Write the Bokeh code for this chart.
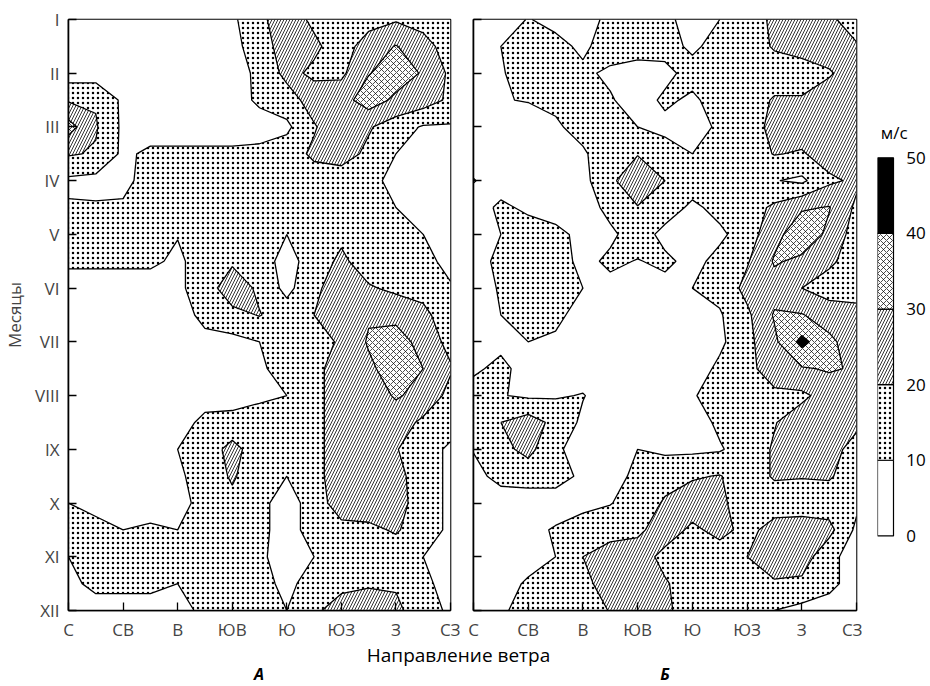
import numpy as np
from bokeh.plotting import figure
from bokeh.layouts import column, row
from bokeh.models import Range1d, FixedTicker, ColumnDataSource
from bokeh.core.properties import value
from bokeh.embed import file_html
from bokeh.resources import INLINE

# ---------------- data ----------------
months = ["I", "II", "III", "IV", "V", "VI", "VII", "VIII", "IX", "X", "XI", "XII"]
directions = ["С", "СВ", "В", "ЮВ", "Ю", "ЮЗ", "З", "СЗ"]
levels = [0, 10, 20, 30, 40, 50]          # wind speed classes, m/s
level_labels = ["0", "10", "20", "30", "40", "50"]
unit_label = "м/с"
panel_names = ["А", "Б"]
x_title = "Направление ветра"
y_title = "Месяцы"

# wind speed (m/s) read on a half-step grid:
# rows = months I .. XII in half-month steps (23), columns = С .. СЗ in half-rhumb steps (15)
speed_A = [
    [5, 5, 5, 5, 5, 5, 8, 18, 25, 18, 15, 16, 19, 16, 15],
    [5, 5, 5, 5, 5, 5, 7, 15, 25, 22, 15, 25, 30.5, 24, 15],
    [5, 5, 5, 5, 5, 5, 6, 12, 23, 18, 18, 29.5, 35, 29, 18],
    [19, 19, 8, 5, 5, 5, 5, 12, 15, 25, 26, 35, 28, 25, 18],
    [34, 21, 8, 5, 5, 5, 5, 5, 8, 19, 28, 21, 15, 9, 9],
    [21, 19, 8, 12, 12, 12, 12, 13, 15, 22, 24, 18, 10, 7, 5],
    [8, 7, 8, 13, 15, 15, 15, 15, 15, 15, 15, 13, 7, 5, 5],
    [11, 11, 11, 15, 15, 15, 15, 15, 15, 15, 15, 15, 10, 9, 5],
    [15, 15, 15, 15, 10.5, 15, 15, 15, 10, 15, 18, 15, 15, 10, 5],
    [12, 12, 12, 12, 8, 15, 18.5, 15, 6, 15, 22, 15, 15, 13, 7],
    [5, 5, 5, 5, 8, 15, 26, 18, 7, 18, 25, 21, 18, 16, 11],
    [5, 5, 5, 5, 5, 13, 17, 20.5, 15, 20, 25, 29, 27, 23, 13],
    [5, 5, 5, 5, 5, 7, 7, 10, 15, 14, 22, 31, 35, 26, 17],
    [5, 5, 5, 5, 5, 5, 5, 8, 15, 17, 25, 28, 35, 30, 21],
    [5, 5, 5, 5, 5, 5, 5, 8, 10, 17, 25, 25, 31, 27, 17],
    [5, 5, 5, 5, 5, 13, 14, 15, 15, 17, 25, 25, 25, 18, 15],
    [5, 5, 5, 5, 10, 15, 23, 15, 15, 17, 25, 25, 20.5, 15, 8],
    [5, 5, 5, 5, 8, 15, 21, 15, 10, 17, 25, 25, 23, 15, 8],
    [10, 8, 7, 7, 7, 13, 18, 13, 5, 15, 25, 25, 24, 15, 8],
    [13, 12, 10, 11, 10, 15, 15, 13, 5, 15, 17, 18, 21, 15, 8],
    [10, 14, 15, 15, 15, 15, 15, 12, 5, 10, 15, 15, 15, 10, 5],
    [7, 13, 13, 13, 10, 14, 15, 14, 7, 15, 17, 19, 19, 13, 5],
    [5, 5, 5, 5, 7, 12, 15, 15, 10, 18, 25, 25, 22, 15, 8],
]

speed_B = [
    [5, 5, 10.5, 7, 5, 13, 15, 13, 5, 10, 15, 22, 25, 22, 15],
    [5, 10, 15, 13, 8, 15, 15, 14, 8, 14, 15, 21, 24, 25, 21],
    [5, 9, 15, 15, 12, 8, 5, 7, 14, 15, 15, 15, 15, 19, 25],
    [5, 9.5, 10.5, 13, 15, 11, 5, 12, 8, 15, 15, 21, 21, 25, 25],
    [5, 5, 5, 8, 15, 15, 10, 7, 5, 12, 15, 23, 25, 25, 25],
    [5, 5, 5, 5, 8, 19, 19.5, 15, 10, 15, 15, 20.5, 19, 25, 25],
    [10.5, 5, 5, 5, 7, 18, 27, 20, 15, 15, 15, 10.5, 8, 18, 22],
    [5, 12, 8, 5, 5, 13, 19.5, 15, 8, 13, 15, 22, 29, 30.5, 18],
    [5, 10, 15, 13, 7, 8, 15, 7, 5, 8, 15, 27, 36, 28, 15],
    [5, 13, 15, 15, 7, 12, 9.5, 12, 7, 13, 19, 31, 28, 22, 15],
    [5, 11, 15, 15, 10, 7, 5, 7, 10, 13, 23, 26, 20, 15, 15],
    [5, 10, 15, 13, 5, 5, 5, 5, 5, 9, 18, 31, 30.5, 26, 24],
    [5, 7, 10, 8, 5, 5, 5, 5, 5, 8, 17, 28, 43, 32, 25],
    [8, 13, 5, 5, 5, 5, 5, 5, 5, 12, 16, 27, 29, 31, 29],
    [15, 10.5, 8.5, 9, 10.5, 5, 5, 5, 9, 15, 15, 17, 18, 24, 25],
    [15, 20, 25, 17, 8, 5, 5, 5, 5, 12, 15, 19.5, 25, 25, 23],
    [10.5, 17, 23, 12, 5, 5, 10, 8, 8, 9, 15, 21, 25, 25, 15],
    [7, 13, 14, 14, 8, 5, 13, 17, 19, 20.5, 15, 21, 20.5, 21, 15],
    [5, 5, 5, 5, 7, 9.5, 15, 21, 25, 22, 15, 15, 15, 15, 12],
    [5, 5, 7, 11, 15, 16, 18, 25, 18, 23, 17, 24, 25, 23, 8],
    [5, 5, 7, 10, 20, 25, 25, 17, 15, 15, 20, 25, 25, 13, 5],
    [5, 7, 11, 15, 17, 25, 25, 21, 15, 15, 15, 19, 18, 13, 5],
    [5, 8, 15, 15, 15, 20.5, 28, 22, 15, 15, 15, 10, 7, 5, 5],
]

# ---------------- styling ----------------
FONT = "Open Sans"
band_fill = ["white", "white", "white", "white", "black"]
band_hatch = [" ", ".", "/", "x", " "]
band_scale = [6, 5, 6, 6, 6]
band_weight = [1, 0.6, 0.8, 0.7, 1]

nx = len(speed_A[0])
ny = len(speed_A)
x_nodes = np.linspace(0, len(directions) - 1, nx)
y_nodes = np.linspace(0, len(months) - 1, ny)

MAIN_H = 643
TOP = 19
BOTTOM = MAIN_H - 613


def panel(z, show_labels, width, left, right):
    p = figure(width=width, height=MAIN_H,
               x_range=Range1d(0, len(directions) - 1),
               y_range=Range1d(len(months) - 1, 0),
               output_backend="svg", toolbar_location=None,
               min_border_left=left, min_border_right=right,
               min_border_top=TOP, min_border_bottom=BOTTOM,
               background_fill_color="white", border_fill_color="white")
    p.contour(x_nodes, y_nodes, np.array(z, dtype=float), levels,
              fill_color=band_fill, hatch_pattern=band_hatch,
              hatch_scale=band_scale, hatch_weight=band_weight,
              hatch_color="black",
              line_color="black", line_width=1.3)
    p.grid.visible = False
    p.outline_line_color = "black"
    p.outline_line_width = 1.6

    p.xaxis.ticker = FixedTicker(ticks=list(range(len(directions))))
    p.xaxis.major_label_overrides = {i: d for i, d in enumerate(directions)}
    p.yaxis.ticker = FixedTicker(ticks=list(range(len(months))))
    if show_labels:
        p.yaxis.major_label_overrides = {i: m for i, m in enumerate(months)}
        p.yaxis.axis_label = y_title
        p.yaxis.axis_label_text_font = FONT
        p.yaxis.axis_label_text_font_size = "17px"
        p.yaxis.axis_label_text_font_style = "normal"
        p.yaxis.axis_label_standoff = 6
        p.yaxis.major_label_standoff = 9
    else:
        p.yaxis.major_label_overrides = {i: "" for i in range(len(months))}
        p.yaxis.major_label_standoff = 0
    for ax in (p.xaxis[0], p.yaxis[0]):
        ax.major_tick_in = 8
        ax.major_tick_out = 0
        ax.minor_tick_in = 0
        ax.minor_tick_out = 0
        ax.major_tick_line_width = 1.3
        ax.axis_line_width = 1.6
        ax.major_label_text_font = FONT
        ax.major_label_text_font_size = "17px"
    p.xaxis.major_label_standoff = 7
    return p


pA = panel(speed_A, True, 460, 67, 10)
pB = panel(speed_B, False, 402, 13, 6)

# ---------------- colour bar (legend of speed classes) ----------------
C_W = 930 - 460 - 402
C_LEFT = 15
BAR_PX = 16
px_per_unit = 380 / (levels[-1] - levels[0])
y_lo = levels[0] - 75 / px_per_unit
y_hi = y_lo + (613 - TOP) / px_per_unit
pC = figure(width=C_W, height=MAIN_H,
            x_range=Range1d(0, (C_W - C_LEFT) / BAR_PX), y_range=Range1d(y_lo, y_hi),
            output_backend="svg", toolbar_location=None,
            x_axis_type=None, y_axis_type=None,
            min_border_left=C_LEFT, min_border_right=0,
            min_border_top=TOP, min_border_bottom=BOTTOM,
            outline_line_color=None)
pC.grid.visible = False
pC.quad(left=0, right=1, bottom=levels[:-1], top=levels[1:],
        fill_color=band_fill, hatch_pattern=band_hatch,
        hatch_scale=band_scale, hatch_weight=band_weight, hatch_color="black",
        line_color="black", line_width=1.2)
lab = ColumnDataSource(dict(x=[1.8] * len(levels), y=levels, t=level_labels))
pC.text(x="x", y="y", text="t", source=lab, text_align="left",
        text_baseline="middle", text_font=value(FONT), text_font_size="17px",
        text_color="black")
ttl = ColumnDataSource(dict(x=[0.2], y=[levels[-1] + 25 / px_per_unit], t=[unit_label]))
pC.text(x="x", y="y", text="t", source=ttl, text_align="left",
        text_baseline="middle", text_font=value(FONT), text_font_size="17px",
        text_color="black")

# ---------------- shared captions ----------------
pL = figure(width=930, height=686 - MAIN_H,
            x_range=Range1d(0, 930), y_range=Range1d(686 - MAIN_H, 0),
            output_backend="svg", toolbar_location=None,
            x_axis_type=None, y_axis_type=None, min_border=0,
            outline_line_color=None)
pL.grid.visible = False
cap = ColumnDataSource(dict(x=[458], y=[11], t=[x_title]))
pL.text(x="x", y="y", text="t", source=cap, text_align="center",
        text_baseline="middle", text_font=value(FONT), text_font_size="19px",
        text_color="black")
names = ColumnDataSource(dict(x=[258.5, 664.5], y=[30, 30], t=panel_names))
pL.text(x="x", y="y", text="t", source=names, text_align="center",
        text_baseline="middle", text_font=value(FONT), text_font_size="16px",
        text_font_style="bold italic", text_color="black")

layout = column(row(pA, pB, pC), pL)

open("out.html", "w").write(file_html(layout, INLINE))
